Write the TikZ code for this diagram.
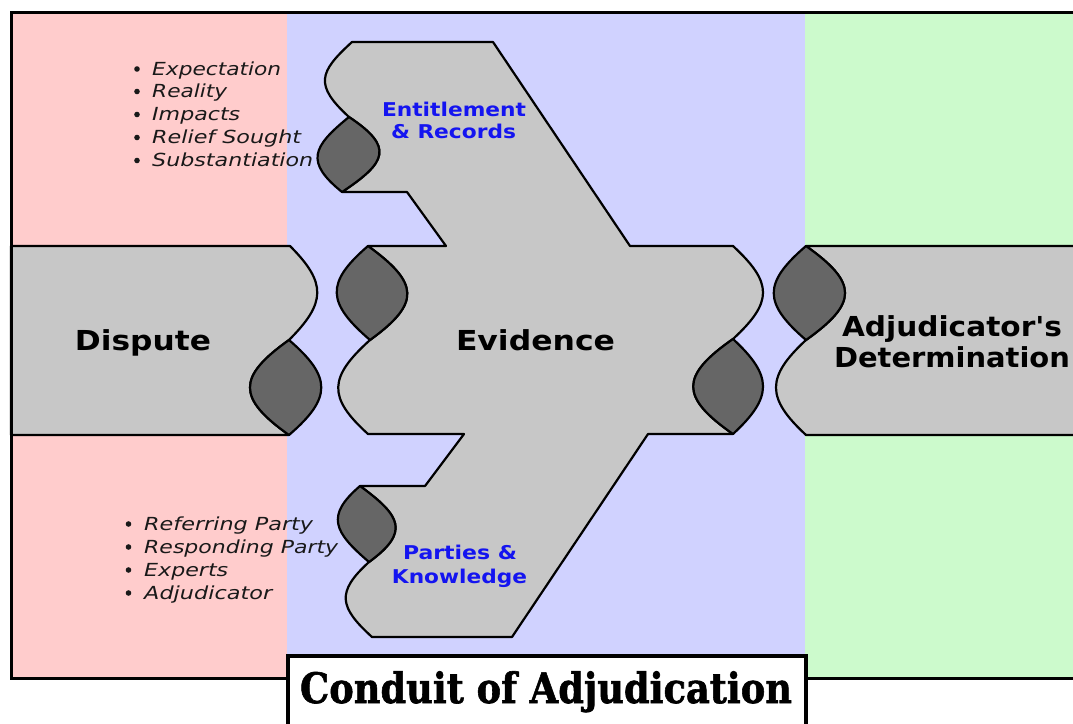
\documentclass[tikz,border=0pt]{standalone}
\usepackage{fontspec}
\usepackage{graphicx}
\newfontfamily\dvs{DejaVu Sans}
\newfontfamily\dvserif{DejaVu Serif}
\newfontfamily\titlefont[FakeBold=1.5]{DejaVu Serif Bold}
\definecolor{pinkbg}{RGB}{255,204,204}
\definecolor{bluebg}{RGB}{208,210,255}
\definecolor{greenbg}{RGB}{204,250,204}
\definecolor{bandgray}{RGB}{199,199,199}
\definecolor{lensgray}{RGB}{102,102,102}
\definecolor{labelblue}{RGB}{20,20,240}
\tikzset{
  outline/.style={draw=black, line width=2.2pt, line join=round},
  band/.style={outline, fill=bandgray},
  lens/.style={outline, fill=lensgray},
  bigtxt/.style={font=\dvs\bfseries\fontsize{27.5}{32}\selectfont, inner sep=0pt, anchor=base},
  subtxt/.style={font=\dvs\bfseries\fontsize{19}{23}\selectfont, text=labelblue, inner sep=0pt, anchor=base},
  itemtxt/.style={font=\dvs\itshape\fontsize{18}{22}\selectfont, text=black!90, inner sep=0pt, anchor=base west},
  dot/.style={fill=black!90},
}
\begin{document}
\begin{tikzpicture}[x=1pt,y=-1pt]
\clip (0,0) rectangle (1073,723);
\fill[white] (0,0) rectangle (1073,723);
% backgrounds
\fill[pinkbg] (11,12) rectangle (287,678);
\fill[bluebg] (287,12) rectangle (805,678);
\fill[greenbg] (805,12) rectangle (1090,678);
% Dispute band
\draw[band] (11,246) -- (290,246)
  .. controls +(37,37) and +(37,-37) .. (289,340)
  .. controls +(-52,37) and +(-52,-37) .. (289,435) -- (11,435) -- cycle;
\draw[lens] (289,340) .. controls +(-52,37) and +(-52,-37) .. (289,435)
  .. controls +(43,-37) and +(43,37) .. (289,340) -- cycle;
% Evidence shape
\draw[band] (352,42) -- (493,42) -- (630,246) -- (733,246)
  .. controls +(40,37) and +(40,-37) .. (733,339)
  .. controls +(-53,37) and +(-53,-37) .. (733,434)
  -- (648,434) -- (512,637) -- (372,637)
  .. controls +(-33,-30) and +(-33,30) .. (369,562)
  .. controls +(41,-30) and +(41,30) .. (360,486)
  -- (425,486) -- (464,434) -- (368,434)
  .. controls +(-41,-37) and +(-41,37) .. (370,340)
  .. controls +(51,-37) and +(51,37) .. (368,246)
  -- (446,246) -- (407,192) -- (342,192)
  .. controls +(45,-30) and +(45,30) .. (349,117)
  .. controls +(-35,-32) and +(-33,30) .. (352,42)
  -- cycle;
\draw[lens] (368,246) .. controls +(-43,37) and +(-43,-37) .. (370,340)
  .. controls +(51,-37) and +(51,37) .. (368,246) -- cycle;
\draw[lens] (733,339) .. controls +(-53,37) and +(-53,-37) .. (733,434)
  .. controls +(40,-37) and +(40,37) .. (733,339) -- cycle;
\draw[lens] (349,117) .. controls +(-37,30) and +(-37,-30) .. (342,192)
  .. controls +(45,-30) and +(45,30) .. (349,117) -- cycle;
\draw[lens] (360,486) .. controls +(-35,30) and +(-35,-30) .. (369,562)
  .. controls +(41,-30) and +(41,30) .. (360,486) -- cycle;
% Adjudicator band
\draw[band] (806,246) -- (1090,246) -- (1090,435) -- (806,435)
  .. controls +(-40,-37) and +(-40,37) .. (806,340)
  .. controls +(52,-37) and +(52,37) .. (806,246) -- cycle;
\draw[lens] (806,246) .. controls +(-43,37) and +(-43,-37) .. (806,340)
  .. controls +(52,-37) and +(52,37) .. (806,246) -- cycle;
% outer frame
\draw[line width=3pt] (11,12) rectangle (1095,678);
% main labels
\node[bigtxt] (dispute) at (143,350) {\resizebox{136pt}{\height}{Dispute}};
\node[bigtxt] (evidence) at (535.5,350) {\resizebox{159pt}{\height}{Evidence}};
\node[bigtxt] (adj1) at (952,336) {\resizebox{220pt}{\height}{Adjudicator's}};
\node[bigtxt] (adj2) at (952,367) {\resizebox{236pt}{\height}{Determination}};
% sub labels
\node[subtxt] (ent1) at (454,116) {\resizebox{144pt}{\height}{Entitlement}};
\node[subtxt] (ent2) at (453.5,138) {\resizebox{125pt}{\height}{\& Records}};
\node[subtxt] (par1) at (460,559) {\resizebox{114pt}{\height}{Parties \&}};
\node[subtxt] (par2) at (459.5,583) {\resizebox{135pt}{\height}{Knowledge}};
% top bullet list
\fill[dot] (137,69) circle (2.8);
\fill[dot] (137,91.5) circle (2.8);
\fill[dot] (137,114.5) circle (2.8);
\fill[dot] (137,137.5) circle (2.8);
\fill[dot] (137,160.5) circle (2.8);
\node[itemtxt] (i1) at (152,75) {\resizebox{129pt}{\height}{Expectation}};
\node[itemtxt] (i2) at (152,97.5) {\resizebox{75pt}{\height}{Reality}};
\node[itemtxt] (i3) at (152,120.5) {\resizebox{88pt}{\height}{Impacts}};
\node[itemtxt] (i4) at (152,143.5) {\resizebox{149pt}{\height}{Relief Sought}};
\node[itemtxt] (i5) at (152,166.5) {\resizebox{161pt}{\height}{Substantiation}};
% bottom bullet list
\fill[dot] (128.5,524) circle (2.8);
\fill[dot] (128.5,547) circle (2.8);
\fill[dot] (128.5,570) circle (2.8);
\fill[dot] (128.5,593) circle (2.8);
\node[itemtxt] (p1) at (144,530) {\resizebox{169pt}{\height}{Referring Party}};
\node[itemtxt] (p2) at (144,553) {\resizebox{194pt}{\height}{Responding Party}};
\node[itemtxt] (p3) at (144,576) {\resizebox{84pt}{\height}{Experts}};
\node[itemtxt] (p4) at (144,599) {\resizebox{128pt}{\height}{Adjudicator}};
% title box
\draw[line width=3.5pt, fill=white] (288,656) rectangle (806,740);
\node[font=\titlefont\fontsize{42}{48}\selectfont, inner sep=0pt, anchor=base] (title) at (546,703) {\resizebox{492pt}{\height}{Conduit of Adjudication}};
\end{tikzpicture}
\end{document}
